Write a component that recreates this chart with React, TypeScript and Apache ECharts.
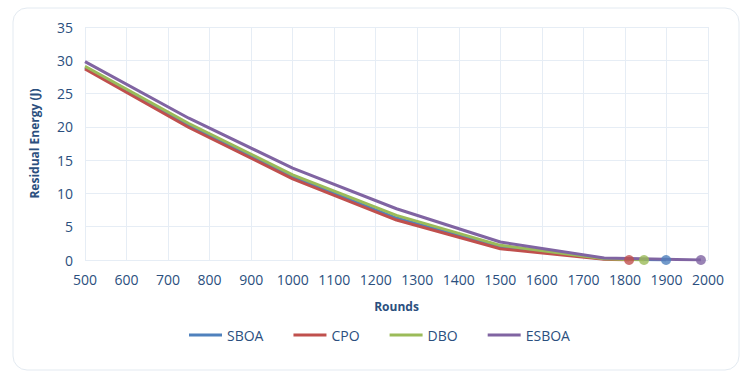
import React, { useEffect, useRef } from "react";
import * as echarts from "echarts";

const rounds = [500, 750, 1000, 1250, 1500, 1750];
const seriesNames = ["SBOA", "CPO", "DBO", "ESBOA"];
const sboa = [28.9, 20.2, 12.5, 6.3, 1.9, 0.2];
const cpo = [28.7, 19.9, 12.2, 6.0, 1.7, 0.1];
const dbo = [29.1, 20.5, 12.8, 6.7, 2.2, 0.2];
const esboa = [29.8, 21.3, 13.8, 7.7, 2.7, 0.3];
const endRounds = [1899, 1810, 1846, 1983];
const endValues = [0, 0, 0, 0];
const colors = ["#4F81BD", "#C0504D", "#9BBB59", "#8064A2"];
const xTicks = { min: 500, max: 2000, interval: 100 };
const yTicks = { min: 0, max: 35, interval: 5 };

export default function App() {
  const ref = useRef<HTMLDivElement>(null);
  useEffect(() => {
    document.body.style.margin = "0";
    const chart = echarts.init(ref.current!, null, { renderer: "svg" });
    const all = [sboa, cpo, dbo, esboa];
    const font = "'Open Sans', 'Noto Sans', sans-serif";
    const textColor = "#2B4F7E";
    const lineSeries = seriesNames.map((name, i) => ({
      name,
      type: "line",
      data: [
        ...rounds.map((r, j) => [r, all[i][j]]),
        [endRounds[i], endValues[i]],
      ],
      symbol: "none",
      lineStyle: { width: 3, color: colors[i] },
      itemStyle: { color: colors[i] },
      z: 2,
    }));
    const markerSeries = seriesNames.map((name, i) => ({
      name: name + "_end",
      type: "scatter",
      data: [[endRounds[i], endValues[i]]],
      symbolSize: 10,
      itemStyle: { color: colors[i] },
      z: 4,
    }));
    chart.setOption({
      animation: false,
      textStyle: { fontFamily: font },
      graphic: [
        {
          type: "rect",
          shape: { x: 13, y: 8, width: 726, height: 362, r: 14 },
          style: { fill: "#fff", stroke: "#E3EAF1", lineWidth: 1 },
          z: -10,
        },
      ],
      grid: { left: 85, right: 39, top: 27, bottom: 124 },
      legend: {
        data: seriesNames.map((n, i) => ({ name: n, icon: "rect", itemStyle: { color: colors[i] } })),
        bottom: 37,
        left: 184,
        itemWidth: 33,
        itemHeight: 3,
        itemGap: 30,
        textStyle: { color: textColor, fontSize: 14, fontFamily: font },
      },
      xAxis: {
        type: "value",
        ...xTicks,
        name: "Rounds",
        nameLocation: "middle",
        nameGap: 40,
        nameTextStyle: { color: textColor, fontSize: 12, fontWeight: "bold", fontFamily: font },
        axisLine: { show: false },
        axisTick: { show: false },
        axisLabel: { color: textColor, fontSize: 14, margin: 12, fontFamily: font, formatter: (v: number) => String(v) },
        splitLine: { lineStyle: { color: "#E6EDF5", width: 1 } },
      },
      yAxis: {
        type: "value",
        ...yTicks,
        name: "Residual Energy (J)",
        nameLocation: "middle",
        nameGap: 45,
        nameTextStyle: { color: textColor, fontSize: 12, fontWeight: "bold", fontFamily: font },
        axisLine: { show: false },
        axisTick: { show: false },
        axisLabel: { color: textColor, fontSize: 14, margin: 12, fontFamily: font, formatter: (v: number) => String(v) },
        splitLine: { lineStyle: { color: "#E6EDF5", width: 1 } },
      },
      series: [...lineSeries, ...markerSeries],
    });
    return () => chart.dispose();
  }, []);
  return <div ref={ref} style={{ width: 747, height: 384 }} />;
}
